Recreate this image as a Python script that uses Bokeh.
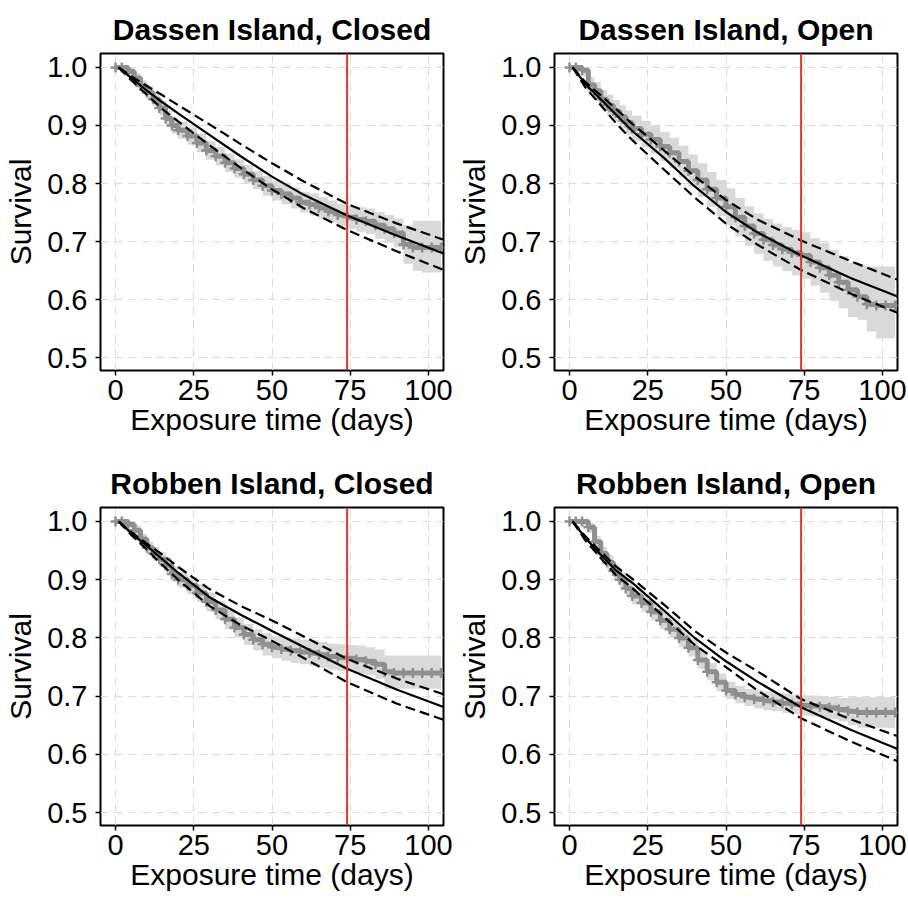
from bokeh.plotting import figure
from bokeh.layouts import gridplot
from bokeh.models import FixedTicker, Span, NumeralTickFormatter, Range1d
from bokeh.embed import file_html
from bokeh.resources import INLINE

# ---------------- data ----------------
titles = ["Dassen Island, Closed", "Dassen Island, Open",
          "Robben Island, Closed", "Robben Island, Open"]
x_ticks = [0, 25, 50, 75, 100]
y_ticks = [0.5, 0.6, 0.7, 0.8, 0.9, 1.0]
cutoff_day = 74

# Kaplan-Meier step estimates (time, survival, CI lower, CI upper)
km_t = [0, 2, 4, 6, 8, 10, 12, 14, 16, 18, 20, 23, 26, 29, 32, 35, 38, 41, 44, 47,
        50, 53, 56, 59, 62, 65, 68, 71, 74, 77, 80, 83, 86, 89, 92, 95, 98, 101, 104]

dc_km = [1.0, 1.0, 0.993, 0.982, 0.968, 0.957, 0.945, 0.93, 0.912, 0.90, 0.892, 0.882, 0.87,
         0.857, 0.847, 0.836, 0.826, 0.816, 0.806, 0.796, 0.788, 0.782, 0.775, 0.768, 0.764, 0.758,
         0.752, 0.746, 0.742, 0.738, 0.735, 0.728, 0.722, 0.715, 0.695, 0.69, 0.69, 0.69, 0.69]
dc_lo = [1.0, 0.995, 0.986, 0.974, 0.958, 0.946, 0.933, 0.917, 0.898, 0.886, 0.877, 0.867, 0.854,
         0.841, 0.831, 0.820, 0.810, 0.800, 0.790, 0.779, 0.771, 0.764, 0.757, 0.750, 0.745, 0.739,
         0.733, 0.727, 0.722, 0.717, 0.713, 0.705, 0.698, 0.690, 0.662, 0.650, 0.647, 0.647, 0.647]
dc_hi = [1.0, 1.0, 1.0, 0.990, 0.978, 0.968, 0.957, 0.943, 0.926, 0.914, 0.907, 0.897, 0.886,
         0.873, 0.863, 0.852, 0.842, 0.832, 0.822, 0.813, 0.805, 0.800, 0.793, 0.786, 0.783, 0.777,
         0.771, 0.765, 0.762, 0.759, 0.757, 0.751, 0.746, 0.740, 0.728, 0.736, 0.736, 0.736, 0.736]

do_km = [1.0, 1.0, 0.995, 0.97, 0.96, 0.945, 0.935, 0.925, 0.915, 0.905, 0.895, 0.885, 0.876,
         0.864, 0.853, 0.838, 0.822, 0.806, 0.79, 0.775, 0.76, 0.742, 0.727, 0.714, 0.703, 0.694,
         0.687, 0.681, 0.676, 0.665, 0.655, 0.642, 0.63, 0.617, 0.605, 0.592, 0.59, 0.59, 0.59]
do_lo = [1.0, 0.995, 0.985, 0.957, 0.945, 0.929, 0.917, 0.906, 0.895, 0.884, 0.873, 0.862, 0.852,
         0.839, 0.827, 0.811, 0.794, 0.777, 0.760, 0.744, 0.728, 0.709, 0.693, 0.679, 0.667, 0.657,
         0.649, 0.642, 0.636, 0.624, 0.612, 0.598, 0.585, 0.570, 0.565, 0.545, 0.533, 0.533, 0.533]
do_hi = [1.0, 1.0, 1.0, 0.983, 0.975, 0.961, 0.953, 0.944, 0.935, 0.926, 0.917, 0.908, 0.900,
         0.889, 0.879, 0.865, 0.850, 0.835, 0.820, 0.806, 0.792, 0.775, 0.761, 0.749, 0.739, 0.731,
         0.725, 0.720, 0.716, 0.706, 0.698, 0.686, 0.675, 0.664, 0.660, 0.657, 0.657, 0.657, 0.657]

rc_km = [1.0, 1.0, 0.995, 0.985, 0.97, 0.955, 0.945, 0.935, 0.925, 0.91, 0.90, 0.89, 0.877,
         0.862, 0.848, 0.832, 0.818, 0.806, 0.797, 0.789, 0.784, 0.781, 0.778, 0.776, 0.774, 0.771,
         0.768, 0.766, 0.765, 0.763, 0.76, 0.755, 0.742, 0.74, 0.74, 0.74, 0.74, 0.74, 0.74]
rc_lo = [1.0, 0.996, 0.989, 0.977, 0.961, 0.945, 0.934, 0.923, 0.912, 0.897, 0.886, 0.875, 0.862,
         0.846, 0.832, 0.815, 0.801, 0.788, 0.779, 0.770, 0.765, 0.761, 0.757, 0.755, 0.752, 0.749,
         0.746, 0.743, 0.742, 0.739, 0.736, 0.730, 0.713, 0.713, 0.713, 0.713, 0.713, 0.713, 0.713]
rc_hi = [1.0, 1.0, 1.0, 0.993, 0.979, 0.965, 0.956, 0.947, 0.938, 0.923, 0.914, 0.905, 0.892,
         0.878, 0.864, 0.849, 0.835, 0.824, 0.815, 0.808, 0.803, 0.801, 0.799, 0.797, 0.796, 0.793,
         0.790, 0.789, 0.788, 0.787, 0.784, 0.780, 0.770, 0.770, 0.770, 0.770, 0.770, 0.770, 0.770]

ro_km = [1.0, 1.0, 1.0, 0.99, 0.965, 0.945, 0.93, 0.915, 0.90, 0.885, 0.872, 0.86, 0.845,
         0.83, 0.815, 0.80, 0.783, 0.762, 0.742, 0.724, 0.71, 0.703, 0.698, 0.695, 0.692, 0.69,
         0.688, 0.686, 0.684, 0.683, 0.682, 0.68, 0.677, 0.674, 0.672, 0.672, 0.672, 0.672, 0.672]
ro_lo = [1.0, 0.996, 0.993, 0.981, 0.955, 0.934, 0.918, 0.902, 0.887, 0.871, 0.858, 0.845, 0.830,
         0.815, 0.800, 0.785, 0.768, 0.747, 0.727, 0.709, 0.695, 0.688, 0.683, 0.679, 0.676, 0.674,
         0.671, 0.669, 0.667, 0.665, 0.664, 0.661, 0.657, 0.650, 0.646, 0.646, 0.646, 0.646, 0.646]
ro_hi = [1.0, 1.0, 1.0, 0.998, 0.975, 0.956, 0.942, 0.928, 0.913, 0.899, 0.886, 0.875, 0.860,
         0.845, 0.830, 0.815, 0.798, 0.777, 0.757, 0.739, 0.725, 0.718, 0.713, 0.711, 0.708, 0.706,
         0.705, 0.703, 0.701, 0.701, 0.700, 0.699, 0.697, 0.698, 0.698, 0.698, 0.698, 0.698, 0.698]

# Fitted parametric survival curves with confidence limits
fit_t = [1, 5, 10, 15, 20, 30, 40, 50, 60, 74, 90, 105]

dc_fit = [1.0, 0.982, 0.960, 0.940, 0.921, 0.884, 0.847, 0.812, 0.781, 0.745, 0.710, 0.679]
dc_fit_hi = [1.0, 0.985, 0.968, 0.952, 0.935, 0.902, 0.868, 0.835, 0.804, 0.765, 0.731, 0.703]
dc_fit_lo = [1.0, 0.978, 0.953, 0.928, 0.907, 0.866, 0.827, 0.790, 0.758, 0.720, 0.683, 0.651]

do_fit = [1.0, 0.972, 0.945, 0.918, 0.891, 0.845, 0.795, 0.751, 0.716, 0.676, 0.637, 0.605]
do_fit_hi = [1.0, 0.975, 0.952, 0.928, 0.903, 0.858, 0.812, 0.772, 0.738, 0.702, 0.666, 0.634]
do_fit_lo = [1.0, 0.966, 0.935, 0.903, 0.875, 0.825, 0.776, 0.731, 0.695, 0.651, 0.610, 0.577]

rc_fit = [1.0, 0.980, 0.958, 0.935, 0.912, 0.870, 0.840, 0.812, 0.785, 0.747, 0.711, 0.681]
rc_fit_hi = [1.0, 0.982, 0.962, 0.943, 0.922, 0.884, 0.855, 0.830, 0.803, 0.764, 0.730, 0.703]
rc_fit_lo = [1.0, 0.977, 0.952, 0.925, 0.900, 0.855, 0.822, 0.795, 0.766, 0.724, 0.687, 0.659]

ro_fit = [1.0, 0.972, 0.943, 0.915, 0.895, 0.848, 0.800, 0.760, 0.725, 0.681, 0.642, 0.609]
ro_fit_hi = [1.0, 0.975, 0.948, 0.922, 0.902, 0.858, 0.812, 0.775, 0.743, 0.695, 0.660, 0.631]
ro_fit_lo = [1.0, 0.968, 0.937, 0.907, 0.886, 0.837, 0.788, 0.750, 0.710, 0.662, 0.622, 0.588]

# ---------------- styling ----------------
FONT = "Liberation Sans"
GRAY_BAND = "#d9d9d9"
GRAY_KM = "#8f8f8f"
RED = "#e0362b"


def make_panel(title, km, lo, hi, fit, fit_lo, fit_hi, width, height, bl, br, bt, bb):
    p = figure(width=width, height=height, output_backend="svg", toolbar_location=None,
               x_range=Range1d(-4.8, 104.8), y_range=Range1d(0.478, 1.024),
               min_border_left=bl, min_border_right=br, min_border_top=bt, min_border_bottom=bb,
               background_fill_color="white", border_fill_color="white")
    p.title.text = title
    p.title.align = "center"
    p.title.text_font = FONT
    p.title.text_font_size = "30px"
    p.title.text_font_style = "bold"
    p.title.text_color = "black"
    p.title.standoff = 16

    p.outline_line_color = "black"
    p.outline_line_width = 2
    p.outline_line_alpha = 1

    for ax in (p.xaxis[0], p.yaxis[0]):
        ax.axis_line_color = None
        ax.major_tick_line_color = "black"
        ax.major_tick_line_width = 1.5
        ax.major_tick_out = 5
        ax.major_tick_in = 0
        ax.minor_tick_line_color = None
        ax.major_label_text_font = FONT
        ax.major_label_text_font_size = "29px"
        ax.major_label_text_color = "black"
        ax.axis_label_text_font = FONT
        ax.axis_label_text_font_size = "30px"
        ax.axis_label_text_font_style = "normal"
        ax.axis_label_text_color = "black"
    p.xaxis.major_label_standoff = 4
    p.xaxis.axis_label_standoff = 0
    p.yaxis.major_label_standoff = 8
    p.yaxis.axis_label_standoff = 7

    p.xaxis.ticker = FixedTicker(ticks=x_ticks)
    p.yaxis.ticker = FixedTicker(ticks=y_ticks)
    p.yaxis.formatter = NumeralTickFormatter(format="0.0")
    p.xaxis.axis_label = "Exposure time (days)"
    p.yaxis.axis_label = "Survival"

    for g in (p.xgrid[0], p.ygrid[0]):
        g.grid_line_color = "#dadada"
        g.grid_line_dash = "8 6"
        g.grid_line_width = 1

    p.varea_step(x=km_t, y1=lo, y2=hi, step_mode="after", fill_color=GRAY_BAND)
    p.step(km_t, km, mode="after", line_color=GRAY_KM, line_width=5)
    p.scatter(km_t, km, marker="cross", size=10, line_color=GRAY_KM, line_width=2.5)

    p.line(fit_t, fit, line_color="black", line_width=2.2)
    p.line(fit_t, fit_hi, line_color="black", line_width=2.2, line_dash="10 5")
    p.line(fit_t, fit_lo, line_color="black", line_width=2.2, line_dash="10 5")

    p.add_layout(Span(location=cutoff_day, dimension="height", line_color=RED, line_width=2))
    return p


p1 = make_panel(titles[0], dc_km, dc_lo, dc_hi, dc_fit, dc_fit_lo, dc_fit_hi, 454, 450, 100, 11, 53, 80)
p2 = make_panel(titles[1], do_km, do_lo, do_hi, do_fit, do_fit_lo, do_fit_hi, 454, 450, 100, 11, 53, 80)
p3 = make_panel(titles[2], rc_km, rc_lo, rc_hi, rc_fit, rc_fit_lo, rc_fit_hi, 454, 449, 100, 11, 57, 74)
p4 = make_panel(titles[3], ro_km, ro_lo, ro_hi, ro_fit, ro_fit_lo, ro_fit_hi, 454, 449, 100, 11, 57, 74)

grid = gridplot([[p1, p2], [p3, p4]], toolbar_location=None)

open("out.html", "w").write(file_html(grid, INLINE))
